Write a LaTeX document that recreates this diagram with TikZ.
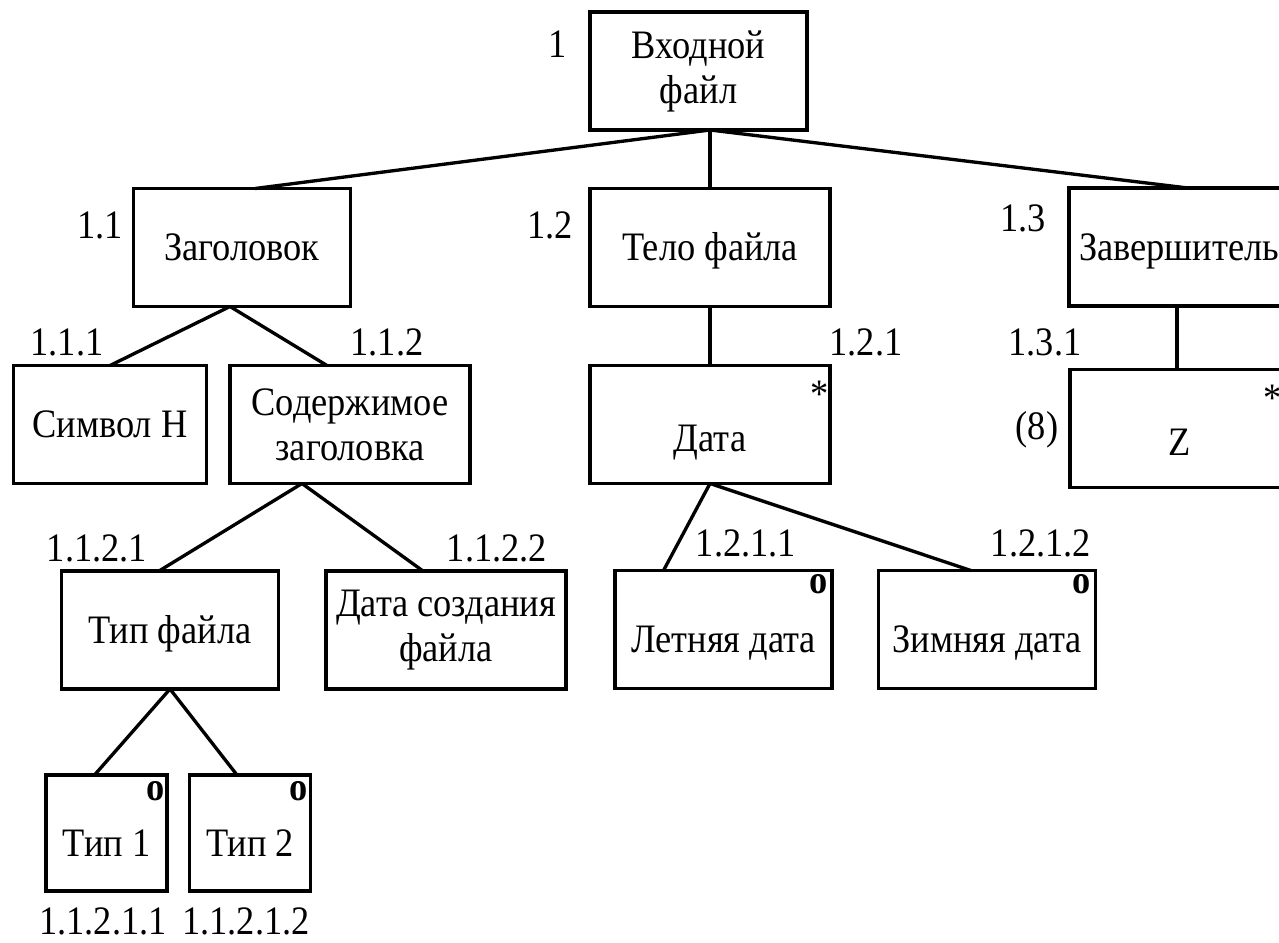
\documentclass[tikz,border=0pt]{standalone}
\usepackage{fontspec}
\setmainfont{Liberation Serif}[FakeStretch=0.9]
\usetikzlibrary{positioning,calc}

\newcommand{\figfont}{\fontsize{23}{25.6}\selectfont}

\tikzset{
  blk/.style={draw, rectangle, line width=2.2pt, outer sep=0pt, inner sep=0pt, align=center, minimum width=4.34cm, minimum height=2.36cm},
  wide/.style={minimum width=4.8cm},
  edge/.style={minimum width=4.4cm},
  one/.style={text height=15.5pt, text depth=0.5pt},
  low/.style={text height=#1, text depth=0.5pt},
  drop/.style={execute at begin node={\rule{0pt}{22pt}}},
  num/.style={inner sep=0pt, text height=15.5pt, text depth=0.5pt},
  star/.style={inner sep=0pt, anchor=north east},
  opt/.style={inner sep=0pt, anchor=north east, font=\figfont\bfseries},
  link/.style={line width=1.9pt}
}

\begin{document}
\begin{tikzpicture}[x=0.02cm, y=-0.02cm, font=\figfont]
\clip (0,0) rectangle (1279,943);
% boxes
\node[blk, drop] (root) at (698.5,71) {Входной\\файл};
\node[blk, one] (head) at (242,247.5) {Заголовок};
\node[blk, one, wide] (body) at (710,247.5) {Тело файла};
\node[blk, one, edge] (tail) at (1179,247) {Завершитель};
\node[blk, one, minimum width=3.86cm] (symh) at (110,424.5) {Символ H};
\node[blk, wide] (hcont) at (350,424.5) {Содержимое\\заголовка};
\node[blk, wide, low=31pt] (date) at (710,424.5) {Дата};
\node[blk, edge, low=31pt] (zsym) at (1180,428.5) {Z};
\node[blk, one] (ftype) at (170,630) {Тип файла};
\node[blk, wide, drop] (cdate) at (446,630) {Дата создания\\файла};
\node[blk, low=27pt] (sdate) at (723.5,629.5) {Летняя дата};
\node[blk, low=27pt] (wdate) at (987,629.5) {Зимняя дата};
\node[blk, low=27pt, minimum width=2.42cm, minimum height=2.32cm] (type1) at (106.5,833) {Тип 1};
\node[blk, low=27pt, minimum width=2.42cm, minimum height=2.32cm] (type2) at (250,833) {Тип 2};

% marks
\node[star] (date-m) at ($(date.north east)+(-1,15)$) {*};
\node[star] (zsym-m) at ($(zsym.north east)+(-8,15)$) {*};
\node[opt] (sdate-m) at ($(sdate.north east)+(-4,4)$) {o};
\node[opt] (wdate-m) at ($(wdate.north east)+(-4,4)$) {o};
\node[opt] (type1-m) at ($(type1.north east)+(-2,6)$) {o};
\node[opt] (type2-m) at ($(type2.north east)+(-2,6)$) {o};

% numbers
\node[num] (n-root) at (558,44) {1};
\node[num] (n-head) at (100,225) {1.1};
\node[num] (n-body) at (550,225) {1.2};
\node[num] (n-tail) at (1023,218) {1.3};
\node[num] (n-symh) at (67,342) {1.1.1};
\node[num] (n-hcont) at (387,342) {1.1.2};
\node[num] (n-date) at (866,342) {1.2.1};
\node[num] (n-zsym) at (1045,342) {1.3.1};
\node[num] (n-cnt) at (1037,426) {(8)};
\node[num] (n-ftype) at (97,548) {1.1.2.1};
\node[num] (n-cdate) at (497,548) {1.1.2.2};
\node[num] (n-sdate) at (746,543) {1.2.1.1};
\node[num] (n-wdate) at (1041,543) {1.2.1.2};
\node[num] (n-type1) at (103,921) {1.1.2.1.1};
\node[num] (n-type2) at (246,921) {1.1.2.1.2};

% links
\coordinate (hub) at (root.south -| body.north);
\draw[link] (hub) -- ($(head.north)+(13,0)$);
\draw[link] (hub) -- (body.north);
\draw[link] (hub) -- ($(tail.north)+(9,0)$);
\draw[link] ($(head.south)+(-12,0)$) -- (symh.north);
\draw[link] ($(head.south)+(-12,0)$) -- ($(hcont.north)+(-23,0)$);
\draw[link] ($(hcont.south)+(-48,0)$) -- ($(ftype.north)+(-11,0)$);
\draw[link] ($(hcont.south)+(-48,0)$) -- ($(cdate.north)+(-23,0)$);
\draw[link] (ftype.south) -- ($(type1.north)+(-12,0)$);
\draw[link] (ftype.south) -- ($(type2.north)+(-13,0)$);
\draw[link] (body.south) -- (date.north);
\draw[link] (date.south) -- ($(sdate.north)+(-60,0)$);
\draw[link] (date.south) -- ($(wdate.north)+(-16,0)$);
\draw[link] ($(tail.south)+(-2,0)$) -- ($(zsym.north)+(-3,0)$);

\end{tikzpicture}
\end{document}
